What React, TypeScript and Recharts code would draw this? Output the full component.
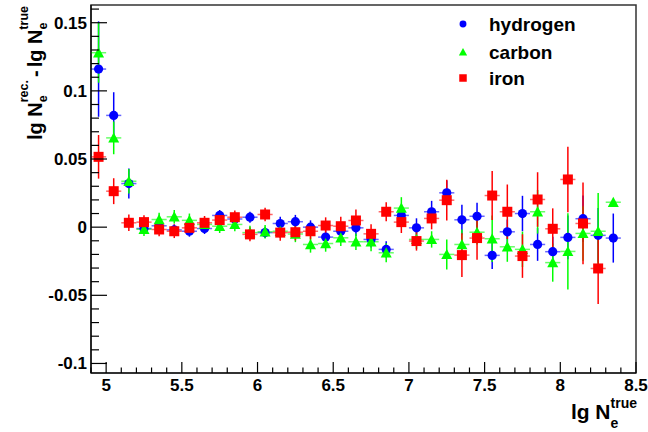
import React from 'react';
import { ScatterChart, Scatter, XAxis, YAxis, ErrorBar, ReferenceArea } from 'recharts';

// bin centres, lg N_e^true
const bins = [
  4.95, 5.05, 5.15, 5.25, 5.35, 5.45, 5.55, 5.65, 5.75, 5.85, 5.95, 6.05,
  6.15, 6.25, 6.35, 6.45, 6.55, 6.65, 6.75, 6.85, 6.95, 7.05, 7.15, 7.25,
  7.35, 7.45, 7.55, 7.65, 7.75, 7.85, 7.95, 8.05, 8.15, 8.25, 8.35,
];

// mean lg N_e^rec - lg N_e^true per bin
const hydrogen = [
  0.116, 0.082, 0.032, -0.001, 0.001, -0.002, -0.003, -0.001, 0.0086, 0.006, 0.0073, -0.004,
  0.0027, 0.004, 0.0, -0.0073, -0.003, -0.0005, -0.009, -0.0163, 0.0086, -0.0005, 0.0113, 0.0252,
  0.0054, 0.008, -0.0207, -0.0034, 0.01, -0.0127, -0.018, -0.0075, 0.0062, -0.006, -0.008,
];
const carbon = [
  0.128, 0.0655, 0.0337, -0.0015, 0.0056, 0.0076, 0.005, 0.002, 0.0007, 0.002, -0.004, -0.0034,
  -0.003, -0.005, -0.0127, -0.012, -0.0078, -0.0107, -0.0107, -0.0188, 0.014, -0.009, -0.009, -0.02,
  -0.0127, -0.0037, -0.0085, -0.0144, -0.0163, 0.0113, -0.026, -0.0178, -0.0046, -0.003, 0.0183,
];
const iron = [
  0.0516, 0.0264, 0.0032, 0.0037, -0.0017, -0.003, -0.0005, 0.0032, 0.0052, 0.0073, -0.0053, 0.0093,
  -0.004, -0.0037, -0.003, 0.0012, 0.0007, 0.0049, -0.0049, 0.0113, 0.0037, -0.0102, 0.0064, 0.0198,
  -0.0205, -0.008, 0.0232, 0.0113, -0.0212, 0.0203, -0.0012, 0.035, 0.0027, -0.0303, null,
];

// errors on the mean
const hydrogenErr = [
  0.035, 0.017, 0.011, 0.004, 0.004, 0.004, 0.004, 0.004, 0.004, 0.004, 0.004, 0.004,
  0.005, 0.005, 0.005, 0.005, 0.005, 0.006, 0.006, 0.006, 0.007, 0.007, 0.008, 0.009,
  0.011, 0.01, 0.01, 0.009, 0.013, 0.012, 0.011, 0.016, 0.017, 0.02, 0.018,
];
const carbonErr = [
  0.022, 0.012, 0.009, 0.005, 0.005, 0.005, 0.005, 0.005, 0.005, 0.005, 0.005, 0.005,
  0.005, 0.006, 0.006, 0.006, 0.006, 0.006, 0.007, 0.007, 0.008, 0.007, 0.006, 0.011,
  0.011, 0.009, 0.017, 0.011, 0.013, 0.016, 0.014, 0.028, 0.02, 0.028, 0.002,
];
const ironErr = [
  0.016, 0.0095, 0.006, 0.005, 0.005, 0.005, 0.005, 0.005, 0.005, 0.005, 0.005, 0.005,
  0.006, 0.006, 0.006, 0.006, 0.007, 0.008, 0.007, 0.007, 0.008, 0.007, 0.008, 0.015,
  0.016, 0.016, 0.018, 0.02, 0.016, 0.02, 0.015, 0.024, 0.03, 0.026, null,
];

const halfBin = 0.05;

const xMajor = [5, 5.5, 6, 6.5, 7, 7.5, 8, 8.5];
const yMajor = [-0.1, -0.05, 0, 0.05, 0.1, 0.15];
const xTicks = Array.from({ length: 37 }, (_, i) => (49 + i) / 10);
const yTicks = Array.from({ length: 27 }, (_, i) => (i - 10) / 100);

const FONT = '"Liberation Sans", Arial, Helvetica, sans-serif';

const makeSeries = (vals: (number | null)[], errs: (number | null)[]) =>
  bins
    .map((x, i) => ({ x, y: vals[i], ex: halfBin, ey: errs[i] }))
    .filter((p) => p.y !== null);

const series = [
  { name: 'hydrogen', color: '#0000ff', data: makeSeries(hydrogen, hydrogenErr), marker: 'circle' },
  { name: 'carbon', color: '#00ff00', data: makeSeries(carbon, carbonErr), marker: 'triangle' },
  { name: 'iron', color: '#ff0000', data: makeSeries(iron, ironErr), marker: 'square' },
];

function Marker({ kind, cx, cy, color, s = 1 }: { kind: string; cx: number; cy: number; color: string; s?: number }) {
  if (kind === 'circle') return <circle cx={cx} cy={cy} r={4.6 * s} fill={color} />;
  if (kind === 'triangle') {
    const h = 5.5 * s;
    return <polygon points={`${cx},${cy - h} ${cx + h},${cy + h * 0.85} ${cx - h},${cy + h * 0.85}`} fill={color} />;
  }
  const a = 5 * s;
  return <rect x={cx - a} y={cy - a} width={2 * a} height={2 * a} fill={color} />;
}

const isMajor = (v: number, majors: number[]) => majors.some((m) => Math.abs(m - v) < 1e-9);

function YTick(props: any) {
  const { x, y, payload } = props;
  const v = payload.value;
  const major = isMajor(v, yMajor);
  const x0 = x + 4;
  return (
    <g>
      <line x1={x0} x2={x0 + (major ? 16 : 8)} y1={y} y2={y} stroke="#000" strokeWidth={1.2} />
      {major && (
        <text x={x} y={y + 6} textAnchor="end" fontFamily={FONT} fontWeight="bold" fontSize={17} fill="#000">
          {String(v)}
        </text>
      )}
    </g>
  );
}

function XTick(props: any) {
  const { x, y, payload } = props;
  const v = payload.value;
  const major = isMajor(v, xMajor);
  return (
    <g>
      <line x1={x} x2={x} y1={y} y2={y - (major ? 11 : 5.5)} stroke="#000" strokeWidth={1.2} />
      {major && (
        <text x={x} y={y + 18} textAnchor="middle" fontFamily={FONT} fontWeight="bold" fontSize={17} fill="#000">
          {String(v)}
        </text>
      )}
    </g>
  );
}

// rotated title, sub/superscripts stacked after each N
const YTitle = () => (
  <text transform="translate(42,6) rotate(-90)" textAnchor="end" fontFamily={FONT} fontWeight="bold" fontSize={20} fill="#000">
    lg N
    <tspan fontSize={12.5} dy={5}>e</tspan>
    <tspan fontSize={12.5} dx={-7} dy={-19}>rec.</tspan>
    <tspan dx={3} dy={14}>-</tspan>
    <tspan dx={3}>lg N</tspan>
    <tspan fontSize={12.5} dy={5}>e</tspan>
    <tspan fontSize={12.5} dx={-7} dy={-19}>true</tspan>
  </text>
);

const XTitle = () => (
  <text x={637} y={419} textAnchor="end" fontFamily={FONT} fontWeight="bold" fontSize={21} fill="#000">
    lg N
    <tspan fontSize={14} dy={9}>e</tspan>
    <tspan fontSize={14} dx={-7.8} dy={-20}>true</tspan>
  </text>
);

export default function App() {
  return (
    <div style={{ position: 'absolute', left: 0, top: 0, width: 648, height: 432, background: '#fff' }}>
      <ScatterChart width={648} height={432} margin={{ top: 5, right: 12, bottom: 0, left: 0 }}>
        <ReferenceArea x1={4.9} x2={8.5} y1={-0.107} y2={0.163} fill="none" stroke="#333" strokeWidth={1.5} />
        <XAxis
          type="number"
          dataKey="x"
          domain={[4.9, 8.5]}
          ticks={xTicks}
          interval={0}
          allowDataOverflow
          height={59}
          tickSize={0}
          tickMargin={0}
          tickLine={false}
          axisLine={{ stroke: '#000', strokeWidth: 1.2 }}
          tick={<XTick />}
          label={<XTitle />}
        />
        <YAxis
          type="number"
          dataKey="y"
          domain={[-0.107, 0.163]}
          ticks={yTicks}
          interval={0}
          allowDataOverflow
          width={91}
          tickSize={0}
          tickMargin={4}
          tickLine={false}
          axisLine={{ stroke: '#000', strokeWidth: 1.2 }}
          tick={<YTick />}
          label={<YTitle />}
        />
        {series.map((s) => (
          <Scatter
            key={s.name}
            name={s.name}
            data={s.data}
            isAnimationActive={false}
            shape={(p: any) => <Marker kind={s.marker} cx={p.cx} cy={p.cy} color={s.color} />}
          >
            <ErrorBar dataKey="ex" direction="x" width={0} stroke={s.color} strokeWidth={1.5} strokeOpacity={0.6} />
            <ErrorBar dataKey="ey" direction="y" width={0} stroke={s.color} strokeWidth={1.5} />
          </Scatter>
        ))}
      </ScatterChart>
      <svg width={648} height={432} style={{ position: 'absolute', left: 0, top: 0, pointerEvents: 'none' }}>
        {series.map((s, i) => {
          const cy = [24, 52, 78][i];
          return (
            <g key={s.name}>
              <Marker kind={s.marker} cx={463} cy={cy} color={s.color} s={0.75} />
              <text x={489} y={cy + 7} fontFamily={FONT} fontWeight="bold" fontSize={19} fill="#000">
                {s.name}
              </text>
            </g>
          );
        })}
      </svg>
    </div>
  );
}
